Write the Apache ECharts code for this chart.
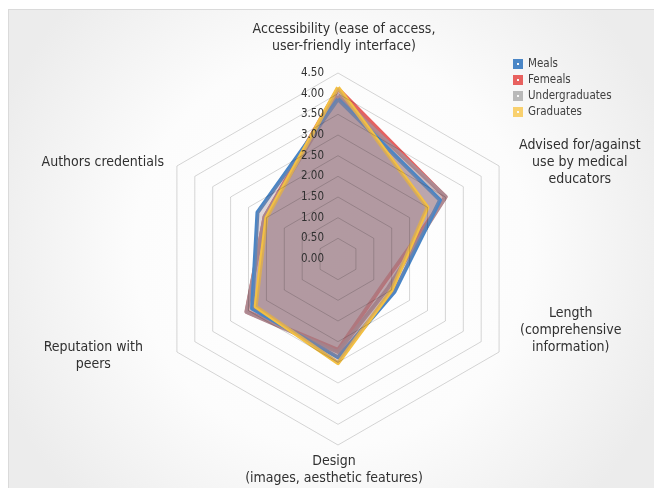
<!DOCTYPE html>
<html><head><meta charset="utf-8">
<script src="https://cdn.jsdelivr.net/npm/echarts@6/dist/echarts.min.js"></script>
<style>
html,body{margin:0;padding:0;background:#fff;}
#chart{position:absolute;left:8px;top:9px;width:646px;height:479px;border-left:1px solid #dadada;border-top:1px solid #dadada;box-sizing:border-box;}
</style></head><body><div id="chart"></div>
<script>
// ---- data ----
const categories = [
  'Accessibility (ease of access,\nuser-friendly interface)',
  'Authors credentials',
  'Reputation with\npeers',
  'Design\n(images, aesthetic features)',
  'Length\n(comprehensive\ninformation)',
  'Advised for/against\nuse by medical\neducators'
];
const seriesNames = ['Meals', 'Femeals', 'Undergraduates', 'Graduates'];
const meals          = [3.87, 2.25, 2.40, 2.38, 1.58, 2.85];
const femeals        = [4.12, 2.05, 2.55, 2.20, 1.25, 3.00];
const undergraduates = [3.95, 2.05, 2.56, 2.25, 1.40, 3.01];
const graduates      = [4.15, 2.00, 2.30, 2.52, 1.50, 2.50];
const axisMax = 4.5;
const axisStep = 0.5;

// ---- styles ----
const FONT = "'Liberation Sans Narrow','DejaVu Sans Condensed',sans-serif";
const legendColors = ['#4a86c6', '#e8615f', '#b9b9b9', '#f8d06e'];
const lineColors = ['#4a86c6', '#e8615f', '#b08a92', '#f3c043'];
// name padding: [top, right, bottomOfLastLine, left]
const namePad = [[0,0,10,12],[0,6,0,0],[0,27,0,0],[0,8,0,0],[0,0,52,14],[0,0,0,13]];

const rich = {};
namePad.forEach((p, i) => {
  rich['n' + i] = {align: 'center', height: 17, padding: [0, p[1], 0, p[3]]};
  rich['m' + i] = {align: 'center', height: 17, padding: [0, p[1], p[2], p[3]]};
});

const valuesBySeries = [meals, femeals, undergraduates, graduates];
const drawOrder = [1, 2, 0, 3];

const chart = echarts.init(document.getElementById('chart'));
const iconPath = 'path://M0,0 L10,0 L10,10 L0,10 Z M4,4 L4,6 L6,6 L6,4 Z';

chart.setOption({
  backgroundColor: {
    type: 'radial', x: 0.5, y: 0.5, r: 0.75,
    colorStops: [{offset: 0, color: '#ffffff'}, {offset: 0.55, color: '#fcfcfc'}, {offset: 1, color: '#ececec'}]
  },
  animation: false,
  legend: {
    orient: 'vertical', left: 499, top: 43,
    itemWidth: 10, itemHeight: 10, itemGap: 4,
    textStyle: {fontFamily: FONT, fontSize: 11.5, color: '#404040'},
    data: seriesNames.map((n, i) => ({name: n, icon: iconPath, itemStyle: {color: legendColors[i]}}))
  },
  radar: {
    z: 3,
    center: [329, 249],
    radius: 186,
    startAngle: 90,
    shape: 'polygon',
    splitNumber: Math.round(axisMax / axisStep),
    nameGap: 8,
    axisName: {
      color: '#303030', fontFamily: FONT, fontSize: 14,
      formatter: function (name) {
        const i = categories.indexOf(name);
        const lines = name.split('\n');
        return lines.map((l, k) => '{' + (k === lines.length - 1 ? 'm' : 'n') + i + '|' + l + '}').join('\n');
      },
      rich: rich
    },
    axisLine: {show: false},
    axisTick: {show: false},
    axisLabel: {show: false},
    splitArea: {show: false},
    splitLine: {lineStyle: {color: 'rgba(0,0,0,0.16)', width: 1}},
    indicator: categories.map((c, i) => ({
      name: c, min: 0, max: axisMax,
      axisLabel: i === 0 ? {
        show: true, color: '#303030', fontFamily: FONT, fontSize: 11.5, margin: 14,
        formatter: v => Number(v).toFixed(2)
      } : {show: false}
    }))
  },
  series: drawOrder.map(si => ({
    type: 'radar',
    z: 2,
    name: seriesNames[si],
    symbol: 'none',
    lineStyle: {color: lineColors[si], width: 4},
    itemStyle: {color: legendColors[si]},
    areaStyle: {color: '#a07f89', opacity: 0.32},
    data: [{name: seriesNames[si], value: valuesBySeries[si]}]
  }))
});
</script></body></html>
